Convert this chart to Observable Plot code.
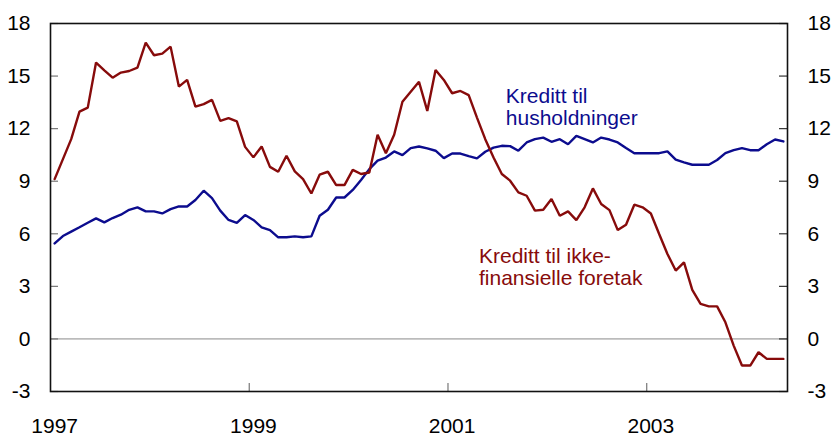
<!DOCTYPE html>
<html><head><meta charset="utf-8">
<script src="https://cdn.jsdelivr.net/npm/d3@7"></script>
<script src="https://cdn.jsdelivr.net/npm/@observablehq/plot@0.6"></script>
<style>
body{margin:0;background:#fff;}
#chart svg{display:block;}
</style>
</head><body><div id="chart"></div>
<script>
// Monthly twelve-month growth, Jan 1997 – May 2004 (per cent)
const startYear = 1997;
const households = [
  5.45, 5.87, 6.12, 6.37, 6.63, 6.88, 6.65, 6.90, 7.09, 7.37, 7.51, 7.28,
  7.28, 7.16, 7.41, 7.56, 7.56, 7.93, 8.46, 8.04, 7.32, 6.79, 6.62, 7.07,
  6.79, 6.37, 6.21, 5.80, 5.80, 5.85, 5.80, 5.85, 7.03, 7.37, 8.07, 8.07,
  8.50, 9.07, 9.69, 10.17, 10.35, 10.70, 10.49, 10.89, 10.98, 10.87, 10.74, 10.32,
  10.58, 10.58, 10.43, 10.30, 10.68, 10.92, 11.02, 11.00, 10.74, 11.21, 11.40, 11.49,
  11.25, 11.40, 11.11, 11.59, 11.40, 11.21, 11.49, 11.38, 11.21, 10.89, 10.60, 10.60,
  10.60, 10.60, 10.70, 10.23, 10.07, 9.94, 9.94, 9.94, 10.21, 10.60, 10.77, 10.89,
  10.77, 10.77, 11.11, 11.38, 11.27
];
const corporates = [
  9.12, 10.26, 11.40, 12.97, 13.20, 15.77, 15.33, 14.91, 15.20, 15.29, 15.48, 16.91,
  16.19, 16.28, 16.68, 14.40, 14.78, 13.26, 13.40, 13.64, 12.44, 12.60, 12.41, 10.96,
  10.36, 10.98, 9.82, 9.54, 10.45, 9.56, 9.12, 8.30, 9.37, 9.54, 8.78, 8.78,
  9.65, 9.41, 9.50, 11.65, 10.60, 11.65, 13.53, 14.10, 14.67, 13.01, 15.35, 14.78,
  14.02, 14.15, 13.91, 12.63, 11.40, 10.35, 9.41, 9.03, 8.36, 8.17, 7.32, 7.37,
  7.98, 7.03, 7.28, 6.78, 7.51, 8.59, 7.70, 7.35, 6.21, 6.52, 7.66, 7.51,
  7.16, 5.99, 4.85, 3.90, 4.37, 2.80, 2.00, 1.86, 1.86, 0.95, -0.38, -1.52,
  -1.52, -0.76, -1.14, -1.14, -1.14
];
const yearLabels = [1997, 1999, 2001, 2003];
const yTicks = [-3, 0, 3, 6, 9, 12, 15, 18];
const labelHouseholds = "Kreditt til\nhusholdninger";
const labelCorporates = "Kreditt til ikke-\nfinansielle foretak";
const labelHouseholdsPos = {x: 2001.54, y: 14.34};
const labelCorporatesPos = {x: 2001.27, y: 5.23};

const blue = "#0c0c8e";
const red = "#870b0b";

const toRows = (values) => values.map((v, i) => ({t: startYear + i / 12, v}));
const hhRows = toRows(households);
const coRows = toRows(corporates);
const n = households.length;

const W = 833, H = 441;
const mL = 50, mR = 46, mT = 23, mB = 50;
const plotW = W - mL - mR, plotH = H - mT - mB;
const tickLen = 8;
const fmt = d => String(d);

const chart = Plot.plot({
  width: W,
  height: H,
  marginLeft: mL,
  marginRight: mR,
  marginTop: mT,
  marginBottom: mB,
  style: {fontFamily: "'Liberation Sans', Arial, Helvetica, sans-serif", fontSize: "21px", background: "#fff", color: "#000"},
  x: {domain: [startYear - 1 / 24, startYear + (n - 0.5) / 12]},
  y: {domain: [-3, 18]},
  marks: [
    Plot.ruleY([0], {stroke: "#8a8a8a", strokeWidth: 1}),
    // inward ticks
    Plot.tickY(yTicks, {y: d => d, insetRight: plotW - tickLen, stroke: "#777", strokeWidth: 1.2}),
    Plot.tickY(yTicks, {y: d => d, insetLeft: plotW - tickLen, stroke: "#333", strokeWidth: 1.2}),
    Plot.tickX(yearLabels.slice(1), {x: d => d - 1 / 24, insetTop: plotH - tickLen, stroke: "#777", strokeWidth: 1.2}),
    Plot.line(hhRows, {x: "t", y: "v", stroke: blue, strokeWidth: 2.4, strokeLinejoin: "miter"}),
    Plot.line(coRows, {x: "t", y: "v", stroke: red, strokeWidth: 2.4, strokeLinejoin: "miter"}),
    Plot.frame({stroke: "#111", strokeWidth: 1.6}),
    Plot.axisY(yTicks, {anchor: "left", tickSize: 0, tickPadding: 20, tickFormat: fmt, label: null, fontSize: 21}),
    Plot.axisY(yTicks, {anchor: "right", tickSize: 0, tickPadding: 20, tickFormat: fmt, label: null, fontSize: 21}),
    Plot.axisX(yearLabels, {anchor: "bottom", tickSize: 0, tickPadding: 27, tickFormat: fmt, label: null, fontSize: 21}),
    Plot.text([labelHouseholdsPos], {x: "x", y: "y", text: () => labelHouseholds, fill: blue, textAnchor: "start", lineAnchor: "top", lineHeight: 1.03, fontSize: 21}),
    Plot.text([labelCorporatesPos], {x: "x", y: "y", text: () => labelCorporates, fill: red, textAnchor: "start", lineAnchor: "top", lineHeight: 1.05, fontSize: 21})
  ]
});
document.getElementById("chart").appendChild(chart);
</script>
</body></html>
